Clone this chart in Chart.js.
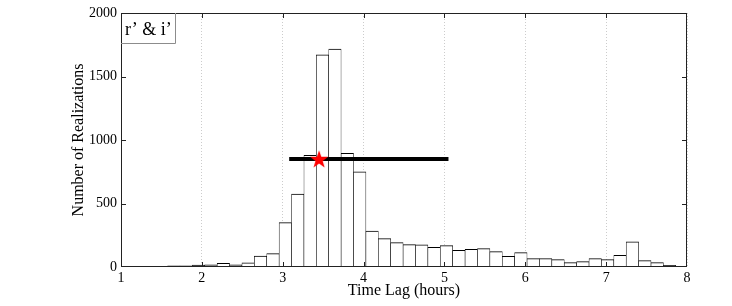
<!DOCTYPE html>
<html>
<head>
<meta charset="utf-8">
<script src="https://cdn.jsdelivr.net/npm/chart.js@4/dist/chart.umd.min.js"></script>
<style>
  html, body { margin: 0; padding: 0; background: #fff; }
  #wrap { width: 732px; height: 306px; }
</style>
</head>
<body>
<div id="wrap"><canvas id="c" width="732" height="306"></canvas></div>
<script>
// ---- data ----
const binCenters = [1.0396, 1.1929, 1.3462, 1.4995, 1.6528, 1.8061, 1.9594, 2.1127, 2.2660, 2.4193,
  2.5726, 2.7259, 2.8792, 3.0325, 3.1858, 3.3391, 3.4924, 3.6457, 3.7990, 3.9523,
  4.1056, 4.2589, 4.4122, 4.5655, 4.7188, 4.8721, 5.0254, 5.1787, 5.3320, 5.4853,
  5.6386, 5.7919, 5.9452, 6.0985, 6.2518, 6.4051, 6.5584, 6.7117, 6.8650, 7.0183,
  7.1716, 7.3249, 7.4782, 7.6315, 7.7848, 7.9381];
const counts = [2, 3, 3, 4, 10, 10, 15, 18, 28, 18,
  33, 86, 105, 350, 574, 880, 1671, 1716, 896, 750,
  282, 224, 192, 176, 174, 155, 168, 132, 139, 145,
  121, 84, 113, 66, 66, 58, 35, 42, 66, 58,
  92, 198, 50, 35, 13, 3];
const rangeLag = [3.08, 5.05];
const rangeCount = [850, 850];
const meanLag = [3.45];
const meanCount = [850];
const legendText = 'r’ & i’';
const xTitle = 'Time Lag (hours)';
const yTitle = 'Number of Realizations';

const SERIF = '"Liberation Serif", "Times New Roman", serif';
Chart.defaults.font.family = SERIF;
Chart.defaults.color = '#000';

// filled red pentagram marker
const starImg = document.createElement('canvas');
starImg.width = 20; starImg.height = 20;
(function () {
  const sc = starImg.getContext('2d');
  sc.beginPath();
  for (let i = 0; i < 10; i++) {
    const r = i % 2 === 0 ? 9.5 : 3.8;
    const a = -Math.PI / 2 + i * Math.PI / 5;
    sc.lineTo(10 + r * Math.cos(a), 10.8 + r * Math.sin(a));
  }
  sc.closePath();
  sc.fillStyle = '#ff0000';
  sc.fill();
})();

const framePlugin = {
  id: 'frame',
  afterDraw(chart) {
    const { ctx, chartArea: a, scales } = chart;
    ctx.save();
    // inward tick marks
    ctx.strokeStyle = '#222';
    ctx.lineWidth = 1;
    const tl = 5;
    ctx.beginPath();
    scales.x.ticks.forEach(t => {
      if (t.value <= scales.x.min || t.value >= scales.x.max) return;
      const px = Math.round(scales.x.getPixelForValue(t.value)) + 0.5;
      ctx.moveTo(px, a.bottom); ctx.lineTo(px, a.bottom - tl);
      ctx.moveTo(px, a.top); ctx.lineTo(px, a.top + tl);
    });
    scales.y.ticks.forEach(t => {
      if (t.value <= scales.y.min || t.value >= scales.y.max) return;
      const py = Math.round(scales.y.getPixelForValue(t.value)) + 0.5;
      ctx.moveTo(a.left, py); ctx.lineTo(a.left + tl, py);
      ctx.moveTo(a.right, py); ctx.lineTo(a.right - tl, py);
    });
    ctx.stroke();
    // box
    ctx.strokeRect(a.left + 0.5, a.top + 0.5, a.right - a.left - 1, a.bottom - a.top - 1);
    // legend box
    const lw = 54, lh = 30;
    ctx.fillStyle = '#fff';
    ctx.fillRect(a.left + 1, a.top + 1, lw - 1, lh - 1);
    ctx.strokeStyle = '#8c8c8c';
    ctx.beginPath();
    ctx.moveTo(a.left + lw + 0.5, a.top);
    ctx.lineTo(a.left + lw + 0.5, a.top + lh + 0.5);
    ctx.lineTo(a.left, a.top + lh + 0.5);
    ctx.stroke();
    ctx.fillStyle = '#000';
    ctx.font = '18px ' + SERIF;
    ctx.textBaseline = 'alphabetic';
    ctx.textAlign = 'left';
    ctx.fillText(legendText, a.left + 4, a.top + 22);
    ctx.restore();
  }
};

new Chart(document.getElementById('c'), {
  type: 'bar',
  data: {
    datasets: [
      {
        type: 'line',
        data: meanLag.map((x, i) => ({ x, y: meanCount[i] })),
        showLine: false,
        pointStyle: starImg,
        pointRadius: 10,
        order: 1
      },
      {
        type: 'line',
        data: rangeLag.map((x, i) => ({ x, y: rangeCount[i] })),
        borderColor: '#000',
        borderWidth: 4,
        borderCapStyle: 'butt',
        pointRadius: 0,
        fill: false,
        order: 2
      },
      {
        type: 'bar',
        data: binCenters.map((x, i) => ({ x, y: counts[i] })),
        backgroundColor: '#ffffff',
        borderColor: '#000',
        borderWidth: { top: 1, left: 0.6, right: 0.6, bottom: 0 },
        borderSkipped: false,
        barPercentage: 1,
        categoryPercentage: 1,
        clip: 0,
        order: 3
      }
    ]
  },
  options: {
    responsive: false,
    animation: false,
    events: [],
    layout: { padding: { left: 0, right: 45, top: 13, bottom: 0 } },
    plugins: { legend: { display: false }, tooltip: { enabled: false } },
    scales: {
      x: {
        type: 'linear',
        offset: false,
        min: 1,
        max: 8,
        afterFit(s) { s.height = 39; },
        ticks: { stepSize: 1, padding: 3, font: { size: 14 }, color: '#000', maxRotation: 0,
                 callback: v => String(v) },
        grid: { display: true, offset: false, drawTicks: false, color: '#cccccc', lineWidth: 1 },
        border: { display: false, dash: [1, 2] },
        title: { display: true, text: xTitle, font: { size: 16 }, color: '#000', padding: { top: 0, bottom: 6 } }
      },
      y: {
        type: 'linear',
        min: 0,
        max: 2000,
        afterFit(s) { s.width = 121; },
        ticks: { stepSize: 500, padding: 4, font: { size: 14 }, color: '#000',
                 callback: v => String(v) },
        grid: { display: false, drawTicks: false },
        border: { display: false },
        title: { display: true, text: yTitle, font: { size: 16 }, color: '#000', padding: { top: 69, bottom: 0 } }
      }
    }
  },
  plugins: [framePlugin]
});
</script>
</body>
</html>
